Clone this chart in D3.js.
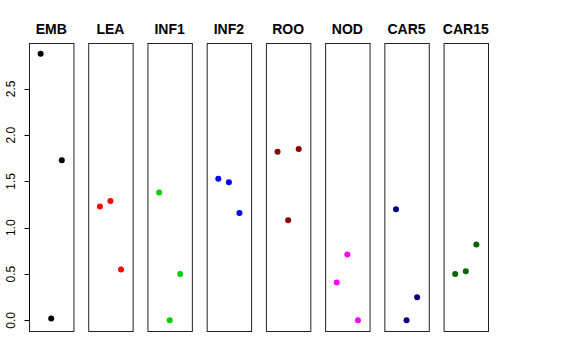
<!DOCTYPE html>
<html>
<head>
  <meta charset="utf-8">
  <title>Tissue panels</title>
  <script src="https://d3js.org/d3.v7.min.js"></script>
  <style>
    body { margin: 0; background: #fff; }
  </style>
</head>
<body>
<div id="chart"></div>
<script>
  var tissues = ["EMB", "LEA", "INF1", "INF2", "ROO", "NOD", "CAR5", "CAR15"];
  var colors = ["#000000", "#ff0000", "#00cd00", "#0000ff", "#8b0000", "#ff00ff", "#000080", "#006400"];
  // three values per tissue, plotted left to right at x = 1, 2, 3
  var v1 = [2.88, 1.23, 1.38, 1.53, 1.82, 0.41, 1.20, 0.50];
  var v2 = [0.02, 1.29, 0.00, 1.49, 1.08, 0.71, 0.00, 0.53];
  var v3 = [1.73, 0.55, 0.50, 1.16, 1.85, 0.00, 0.25, 0.82];
  var yTicks = [0, 0.5, 1, 1.5, 2, 2.5];

  var width = 576, height = 360;
  var pTop = 43, pBottom = 331, pLeft = 29, pRight = 488;

  var svg = d3.select("#chart").append("svg")
      .attr("width", width)
      .attr("height", height);

  var xBand = d3.scaleBand()
      .domain(tissues)
      .range([pLeft, pRight])
      .paddingInner(0.25)
      .paddingOuter(0);

  var y = d3.scaleLinear()
      .domain([-0.115, 2.995])
      .range([pBottom, pTop]);

  var xIn = d3.scaleLinear()
      .domain([-0.1, 4.1])
      .range([0, xBand.bandwidth()]);

  var data = tissues.map(function(t, i) {
    return { name: t, color: colors[i], vals: [v1[i], v2[i], v3[i]] };
  });

  var panel = svg.selectAll(".panel")
      .data(data)
      .enter().append("g")
      .attr("class", "panel")
      .attr("transform", function(d) { return "translate(" + xBand(d.name) + ",0)"; });

  panel.append("rect")
      .attr("x", 0.5)
      .attr("y", pTop + 0.5)
      .attr("width", xBand.bandwidth())
      .attr("height", pBottom - pTop)
      .attr("fill", "none")
      .attr("stroke", "#222")
      .attr("stroke-width", 1);

  panel.selectAll("circle")
      .data(function(d) { return d.vals.map(function(v, j) { return { v: v, j: j + 1, c: d.color }; }); })
      .enter().append("circle")
      .attr("cx", function(d) { return xIn(d.j); })
      .attr("cy", function(d) { return y(d.v); })
      .attr("r", 3)
      .attr("fill", function(d) { return d.c; });

  panel.append("text")
      .attr("x", xBand.bandwidth() / 2)
      .attr("y", 34)
      .attr("text-anchor", "middle")
      .attr("font-family", "Liberation Sans, Arial, sans-serif")
      .attr("font-weight", "bold")
      .attr("font-size", 14)
      .text(function(d) { return d.name; });

  // y axis on the first panel
  var ax = svg.append("g")
      .attr("transform", "translate(" + (pLeft + 0.5) + ",0)");

  ax.append("line")
      .attr("x1", 0).attr("x2", 0)
      .attr("y1", y(0)).attr("y2", y(2.5))
      .attr("stroke", "#000");

  ax.selectAll(".tick")
      .data(yTicks)
      .enter().append("line")
      .attr("x1", 0).attr("x2", -5)
      .attr("y1", function(d) { return Math.round(y(d)) + 0.5; })
      .attr("y2", function(d) { return Math.round(y(d)) + 0.5; })
      .attr("stroke", "#000");

  ax.selectAll(".lab")
      .data(yTicks)
      .enter().append("text")
      .attr("transform", function(d) { return "translate(-15," + y(d) + ") rotate(-90)"; })
      .attr("text-anchor", "middle")
      .attr("font-family", "Liberation Sans, Arial, sans-serif")
      .attr("font-size", 12)
      .text(function(d) { return d3.format(".1f")(d); });
</script>
</body>
</html>
